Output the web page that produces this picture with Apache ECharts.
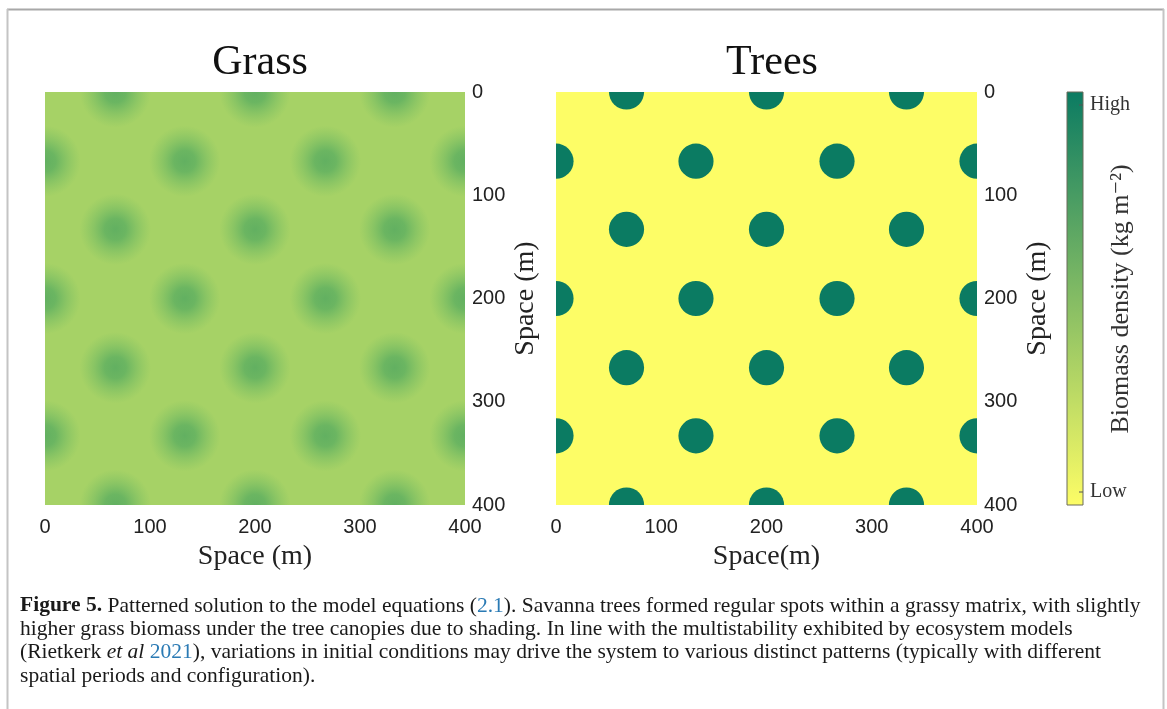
<!DOCTYPE html>
<html>
<head>
<meta charset="utf-8">
<script src="https://cdn.jsdelivr.net/npm/echarts@6/dist/echarts.min.js"></script>
<style>
  html, body { margin: 0; padding: 0; background: #ffffff; }
  #chart { width: 1167px; height: 709px; }
</style>
</head>
<body>
<div id="chart"></div>
<script>
// ---- data ----
const panelTitles = ['Grass', 'Trees'];
const axisTicks = [0, 100, 200, 300, 400];
const xAxisNames = ['Space (m)', 'Space(m)'];
const yAxisName = 'Space (m)';
const colorbarLabels = ['High', 'Low'];
const colorbarName = 'Biomass density (kg m\u207B\u00B2)';
// centres of tree canopy spots (x, y) in metres
const treeSpots = [
  [67, 0], [200, 0], [333, 0],
  [0, 67], [133, 67], [267, 67], [400, 67],
  [67, 133], [200, 133], [333, 133],
  [0, 200], [133, 200], [267, 200], [400, 200],
  [67, 267], [200, 267], [333, 267],
  [0, 333], [133, 333], [267, 333], [400, 333],
  [67, 400], [200, 400], [333, 400]
];
// grass biomass maxima (under the canopies, due to shading)
const grassSpots = [
  [67, 0], [200, 0], [333, 0],
  [0, 67], [133, 67], [267, 67], [400, 67],
  [67, 133], [200, 133], [333, 133],
  [0, 200], [133, 200], [267, 200], [400, 200],
  [67, 267], [200, 267], [333, 267],
  [0, 333], [133, 333], [267, 333], [400, 333],
  [67, 400], [200, 400], [333, 400]
];
const treeSpotRadius = 16.7;   // metres
const grassSpotRadius = 34;    // metres (blurred halo)
const captionLines = [
  [['b', 'Figure 5.'], ['n', ' Patterned solution to the model equations ('], ['l', '2.1'], ['n', '). Savanna trees formed regular spots within a grassy matrix, with slightly']],
  [['n', 'higher grass biomass under the tree canopies due to shading. In line with the multistability exhibited by ecosystem models']],
  [['n', '(Rietkerk '], ['i', 'et al'], ['n', ' '], ['l', '2021'], ['n', '), variations in initial conditions may drive the system to various distinct patterns (typically with different']],
  [['n', 'spatial periods and configuration).']]
];

// ---- colours (MATLAB "summer" colormap) ----
const cLow = '#fdfd66';
const cHigh = '#0b7b62';
const cGrassBg = '#a6d266';
const textColor = '#222222';
const serif = '"Liberation Serif", "DejaVu Serif", serif';
const sans = '"Liberation Sans", Arial, sans-serif';

const chart = echarts.init(document.getElementById('chart'), null, { renderer: 'canvas' });

const grids = [
  { left: 45, top: 92, width: 420, height: 413 },
  { left: 556, top: 92, width: 421, height: 413 }
];

function makeX(i) {
  return {
    gridIndex: i, type: 'value', min: axisTicks[0], max: axisTicks[axisTicks.length - 1], interval: 100,
    position: 'bottom',
    axisLine: { show: false }, axisTick: { show: false }, splitLine: { show: false },
    axisLabel: { fontFamily: sans, fontSize: 20, color: textColor, margin: 12 },
    name: xAxisNames[i], nameLocation: 'middle', nameGap: 38,
    nameTextStyle: { fontFamily: serif, fontSize: 28, color: textColor }
  };
}
function makeY(i) {
  return {
    gridIndex: i, type: 'value', min: axisTicks[0], max: axisTicks[axisTicks.length - 1], interval: 100,
    inverse: true, position: 'right',
    axisLine: { show: false }, axisTick: { show: false }, splitLine: { show: false },
    axisLabel: { fontFamily: sans, fontSize: 20, color: textColor, margin: 7 },
    name: yAxisName, nameLocation: 'middle', nameRotate: 90, nameGap: 47,
    nameTextStyle: { fontFamily: serif, fontSize: 28, color: textColor }
  };
}

function clipOf(params) {
  const cs = params.coordSys;
  return { type: 'rect', shape: { x: cs.x, y: cs.y, width: cs.width, height: cs.height } };
}

const grassFill = {
  type: 'radial', x: 0.5, y: 0.5, r: 0.5,
  colorStops: [
    { offset: 0, color: 'rgba(98,176,97,1)' },
    { offset: 0.3, color: 'rgba(102,179,97,0.92)' },
    { offset: 0.6, color: 'rgba(108,183,98,0.5)' },
    { offset: 1, color: 'rgba(120,190,98,0)' }
  ]
};

// caption graphic
const capSize = 21;
const captionStyles = {
  n: { fontFamily: serif, fontSize: capSize, fill: '#1a1a1a' },
  b: { fontFamily: serif, fontSize: capSize, fontWeight: 'bold', fill: '#1a1a1a' },
  i: { fontFamily: serif, fontSize: capSize, fontStyle: 'italic', fill: '#1a1a1a' },
  l: { fontFamily: serif, fontSize: capSize, fill: '#2a7ab4' }
};
const captionY = [606, 629, 652, 676];
const captionGraphics = captionLines.map((line, k) => ({
  type: 'text', x: 20, y: captionY[k], scaleX: 1.025, silent: true,
  style: {
    text: line.map(p => '{' + p[0] + '|' + p[1] + '}').join(''),
    rich: captionStyles, fontFamily: serif, fontSize: capSize, fill: '#1a1a1a',
    align: 'left', verticalAlign: 'middle'
  }
}));

const option = {
  animation: false,
  backgroundColor: '#ffffff',
  title: [
    { text: panelTitles[0], left: 255, top: 37, textAlign: 'center',
      textStyle: { fontFamily: serif, fontSize: 42, fontWeight: 'normal', color: '#111' } },
    { text: panelTitles[1], left: 767, top: 37, textAlign: 'center',
      textStyle: { fontFamily: serif, fontSize: 42, fontWeight: 'normal', color: '#111' } }
  ],
  grid: [
    Object.assign({ show: true, backgroundColor: cGrassBg, borderWidth: 0 }, grids[0]),
    Object.assign({ show: true, backgroundColor: cLow, borderWidth: 0 }, grids[1])
  ],
  xAxis: [makeX(0), makeX(1)],
  yAxis: [makeY(0), makeY(1)],
  series: [
    {
      type: 'custom', name: 'Grass', xAxisIndex: 0, yAxisIndex: 0, clip: true,
      data: grassSpots,
      renderItem: function (params, api) {
        const c = api.coord([api.value(0), api.value(1)]);
        const s = api.size([grassSpotRadius, grassSpotRadius]);
        return {
          type: 'circle', shape: { cx: c[0], cy: c[1], r: Math.abs(s[0]) },
          style: { fill: grassFill }, clipPath: clipOf(params)
        };
      }
    },
    {
      type: 'custom', name: 'Trees', xAxisIndex: 1, yAxisIndex: 1, clip: true,
      data: treeSpots,
      renderItem: function (params, api) {
        const c = api.coord([api.value(0), api.value(1)]);
        const s = api.size([treeSpotRadius, treeSpotRadius]);
        return {
          type: 'circle', shape: { cx: c[0], cy: c[1], r: Math.abs(s[0]) },
          style: { fill: cHigh }, clipPath: clipOf(params)
        };
      }
    }
  ],
  graphic: [
    // figure frame
    { type: 'line', silent: true, shape: { x1: 7, y1: 9.5, x2: 1164, y2: 9.5 }, style: { stroke: '#a8a8a8', lineWidth: 2 } },
    { type: 'line', silent: true, shape: { x1: 7.5, y1: 9, x2: 7.5, y2: 709 }, style: { stroke: '#c4c4c4', lineWidth: 2 } },
    { type: 'line', silent: true, shape: { x1: 1163.5, y1: 9, x2: 1163.5, y2: 709 }, style: { stroke: '#c4c4c4', lineWidth: 2 } },
    // colour bar
    { type: 'rect', silent: true, shape: { x: 1067, y: 92, width: 16, height: 413 },
      style: { fill: { type: 'linear', x: 0, y: 0, x2: 0, y2: 1, colorStops: [{ offset: 0, color: cHigh }, { offset: 1, color: cLow }] },
        stroke: '#6b6b5a', lineWidth: 1 } },
    { type: 'line', silent: true, shape: { x1: 1079, y1: 105, x2: 1083, y2: 105 }, style: { stroke: '#555', lineWidth: 1 } },
    { type: 'line', silent: true, shape: { x1: 1079, y1: 492, x2: 1083, y2: 492 }, style: { stroke: '#555', lineWidth: 1 } },
    { type: 'text', silent: true, x: 1090, y: 105,
      style: { text: colorbarLabels[0], fontFamily: serif, fontSize: 20, fill: '#333', align: 'left', verticalAlign: 'middle' } },
    { type: 'text', silent: true, x: 1090, y: 492,
      style: { text: colorbarLabels[1], fontFamily: serif, fontSize: 20, fill: '#333', align: 'left', verticalAlign: 'middle' } },
    { type: 'text', silent: true, x: 1121, y: 299, rotation: Math.PI / 2,
      style: { text: colorbarName, fontFamily: serif, fontSize: 26, fill: '#333', align: 'center', verticalAlign: 'middle' } }
  ].concat(captionGraphics)
};

chart.setOption(option);
</script>
</body>
</html>
